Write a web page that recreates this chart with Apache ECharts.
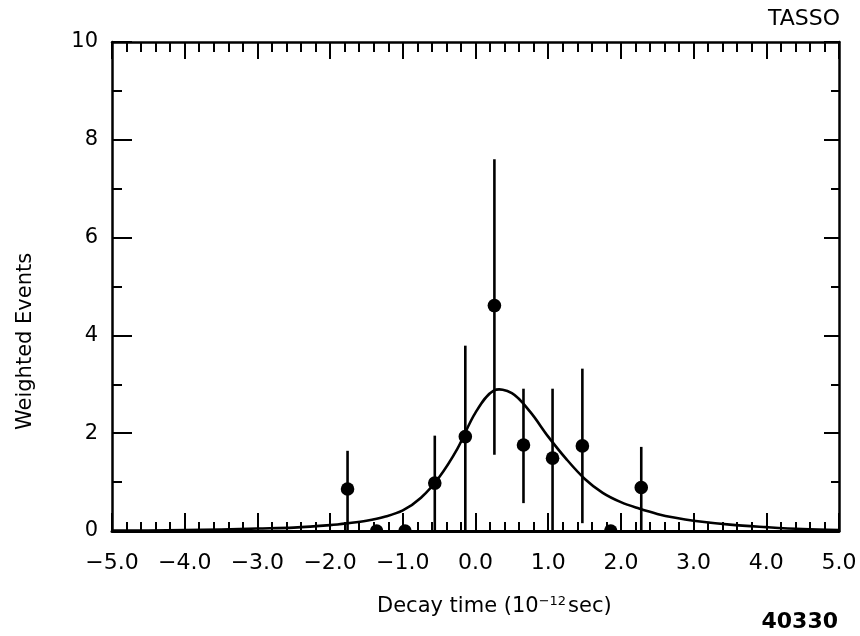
<!DOCTYPE html>
<html>
<head>
<meta charset="utf-8">
<script src="https://cdn.jsdelivr.net/npm/echarts@6/dist/echarts.min.js"></script>
<style>
  html, body { margin: 0; background: #fff; }
  #chart { width: 860px; height: 636px; }
</style>
</head>
<body>
<div id="chart"></div>
<script>
// measured points with error bars
const pointX = [-1.76, -1.36, -0.97, -0.56, -0.14, 0.26, 0.66, 1.06, 1.47, 1.86, 2.28]
const pointY = [0.86, 0, 0, 0.98, 1.93, 4.61, 1.76, 1.49, 1.74, 0, 0.89]
const errLow = [0, null, null, 0, 0, 1.56, 0.57, 0, 0.16, null, 0]
const errHigh = [1.64, null, null, 1.95, 3.79, 7.6, 2.91, 2.91, 3.32, null, 1.72]

// fitted curve
const curveX = [-5.0, -4.5, -4.0, -3.5, -3.0, -2.5, -2.0, -1.75, -1.5, -1.25, -1.0, -0.75, -0.5, -0.25,
  0.0, 0.25, 0.5, 0.75, 1.0, 1.25, 1.5, 1.75, 2.0, 2.25, 2.5, 2.75, 3.0, 3.5, 4.0, 4.5, 5.0]
const curveY = [0.01, 0.01, 0.02, 0.03, 0.05, 0.07, 0.12, 0.16, 0.21, 0.29, 0.42, 0.68, 1.10, 1.68,
  2.42, 2.87, 2.82, 2.44, 1.93, 1.47, 1.07, 0.78, 0.59, 0.46, 0.35, 0.27, 0.21, 0.13, 0.08, 0.04, 0.02]

const font = 'DejaVu Sans'

function renderPoint(params, api) {
  const i = params.dataIndex
  const c = api.coord([api.value(0), api.value(1)])
  const children = []
  if (errLow[i] !== null) {
    const lo = api.coord([api.value(0), errLow[i]])
    const hi = api.coord([api.value(0), errHigh[i]])
    children.push({
      type: 'line',
      shape: { x1: lo[0], y1: lo[1], x2: hi[0], y2: hi[1] },
      style: { stroke: '#000', lineWidth: 2.6 }
    })
  }
  children.push({
    type: 'circle',
    shape: { cx: c[0], cy: c[1], r: 6.8 },
    style: { fill: '#000' }
  })
  return { type: 'group', children }
}

// whole fit curve drawn as one smoothed polyline
function renderCurve(params, api) {
  const pts = curveX.map((x, i) => api.coord([x, curveY[i]]))
  return {
    type: 'polyline',
    shape: { points: pts, smooth: 0.35 },
    style: { stroke: '#000', fill: null, lineWidth: 2.6 }
  }
}

const chart = echarts.init(document.getElementById('chart'))
const axisLine = { show: true, onZero: false, lineStyle: { color: '#000', width: 2.5 } }

chart.setOption({
  animation: false,
  backgroundColor: '#fff',
  grid: { left: 112, right: 21, top: 42, bottom: 105 },
  xAxis: [
    {
      type: 'value', min: -5, max: 5, interval: 1, position: 'bottom',
      axisLine: { ...axisLine, lineStyle: { color: '#000', width: 3 } },
      axisTick: { inside: true, length: 18, lineStyle: { color: '#000', width: 2 } },
      minorTick: { show: true, splitNumber: 5, length: 9, lineStyle: { color: '#000', width: 2 } },
      splitLine: { show: false },
      axisLabel: {
        margin: 21, color: '#000', fontFamily: font, fontSize: 22,
        formatter: v => (v < 0 ? '\u2212' : '') + Math.abs(v).toFixed(1)
      }
    },
    {
      type: 'value', min: -5, max: 5, interval: 1, position: 'top',
      axisLine: axisLine,
      axisTick: { inside: true, length: 17, lineStyle: { color: '#000', width: 2 } },
      minorTick: { show: true, splitNumber: 5, length: 10, lineStyle: { color: '#000', width: 2 } },
      splitLine: { show: false },
      axisLabel: { show: false }
    }
  ],
  yAxis: [
    {
      type: 'value', min: 0, max: 10, interval: 2, position: 'left',
      axisLine: axisLine,
      axisTick: { inside: true, length: 20, lineStyle: { color: '#000', width: 2 } },
      minorTick: { show: true, splitNumber: 2, length: 10, lineStyle: { color: '#000', width: 2 } },
      splitLine: { show: false },
      axisLabel: { margin: 14, color: '#000', fontFamily: font, fontSize: 21 }
    },
    {
      type: 'value', min: 0, max: 10, interval: 2, position: 'right',
      axisLine: axisLine,
      axisTick: { inside: true, length: 15, lineStyle: { color: '#000', width: 2 } },
      minorTick: { show: true, splitNumber: 2, length: 8, lineStyle: { color: '#000', width: 2 } },
      splitLine: { show: false },
      axisLabel: { show: false }
    }
  ],
  series: [
    {
      name: 'fit',
      type: 'custom',
      clip: true,
      renderItem: renderCurve,
      data: [[curveX[0], curveY[0]]]
    },
    {
      name: 'data',
      type: 'custom',
      clip: true,
      renderItem: renderPoint,
      data: pointX.map((x, i) => [x, pointY[i]])
    }
  ],
  graphic: [
    {
      type: 'text', right: 20, top: 8,
      style: { text: 'TASSO', font: '22px ' + font, fill: '#000' }
    },
    {
      type: 'text', x: 377, y: 595,
      style: {
        text: 'Decay time (10{sup|\u221212}sec)',
        font: '21px ' + font, fill: '#000',
        rich: { sup: { fontSize: 13, fontFamily: font, verticalAlign: 'top', padding: [0, 2, 10, 0] } }
      }
    },
    {
      type: 'text', right: 22, top: 611,
      style: { text: '40330', font: 'bold 22px ' + font, fill: '#000' }
    },
    {
      type: 'text', x: 15, y: 430, rotation: Math.PI / 2,
      style: { text: 'Weighted Events', font: '21px ' + font, fill: '#000' }
    }
  ]
})
</script>
</body>
</html>
